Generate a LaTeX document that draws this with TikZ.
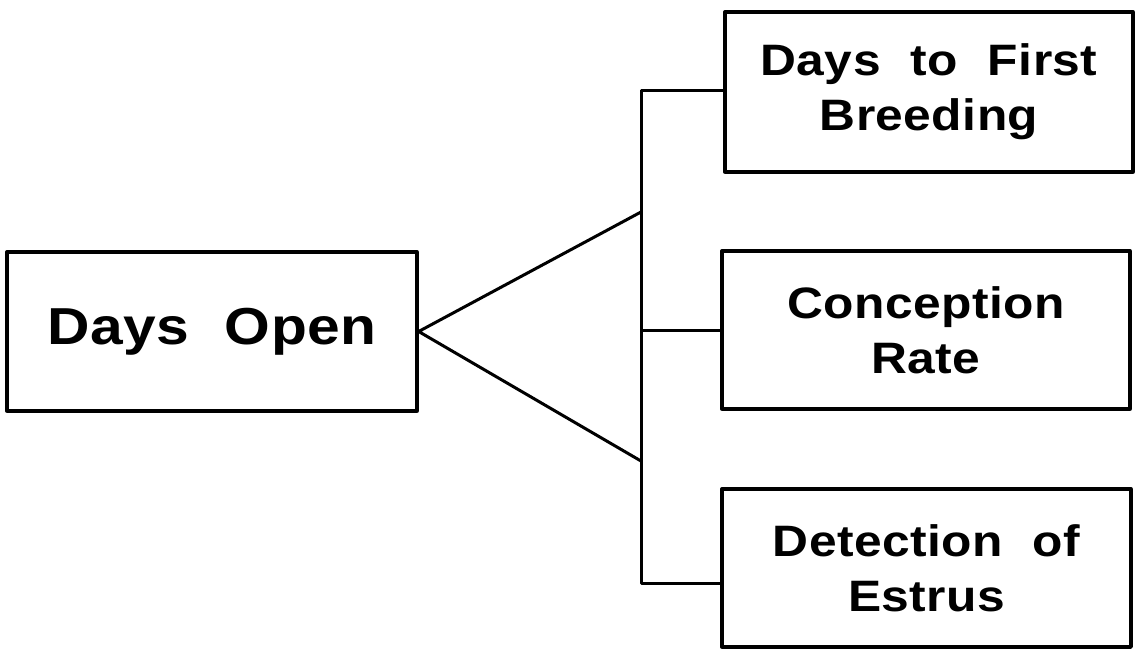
\documentclass[tikz,border=0pt]{standalone}
\usepackage{fontspec}
\newfontfamily\bigplotfont{Liberation Sans}[FakeStretch=1.13, LetterSpace=1, WordSpace=2.8]
\newfontfamily\smallplotfont{Liberation Sans}[FakeStretch=1.13, LetterSpace=1, WordSpace=2.1]
\begin{document}
\begin{tikzpicture}[x=1pt,y=-1pt,
  line join=round,
  box/.style={draw=black, line width=3.3pt, rectangle, inner sep=0pt, align=center},
  bigtext/.style={font=\bigplotfont\bfseries\fontsize{52pt}{60pt}\selectfont},
  smalltext/.style={font=\smallplotfont\bfseries\fontsize{44pt}{55pt}\selectfont},
  wire/.style={draw=black, line width=3pt}]
\useasboundingbox (0,0) rectangle (1135,649);
% boxes
\node[box, bigtext, minimum width=410pt, minimum height=159pt] (do) at (212,331.5) {Days Open};
\node[box, smalltext, minimum width=408pt, minimum height=160pt] (db) at (929,92) {Days to First\\Breeding};
\node[box, smalltext, minimum width=408pt, minimum height=158pt] (cr) at (926,330) {Conception\\Rate};
\node[box, smalltext, minimum width=409pt, minimum height=158pt] (de) at (926.5,568) {Detection of\\Estrus};
% junction points
\coordinate (jt) at (641,90);
\coordinate (jb) at (641,583);
\coordinate (ju) at (641,212);
\coordinate (jl) at (641,461);
% connectors
\draw[wire] (jt -| db.west) -- (jt) -- (jb) -- (jb -| de.west);
\draw[wire] (cr.west) -- (cr.west -| jt);
\draw[wire] (ju) -- (do.east) -- (jl);
\end{tikzpicture}
\end{document}
